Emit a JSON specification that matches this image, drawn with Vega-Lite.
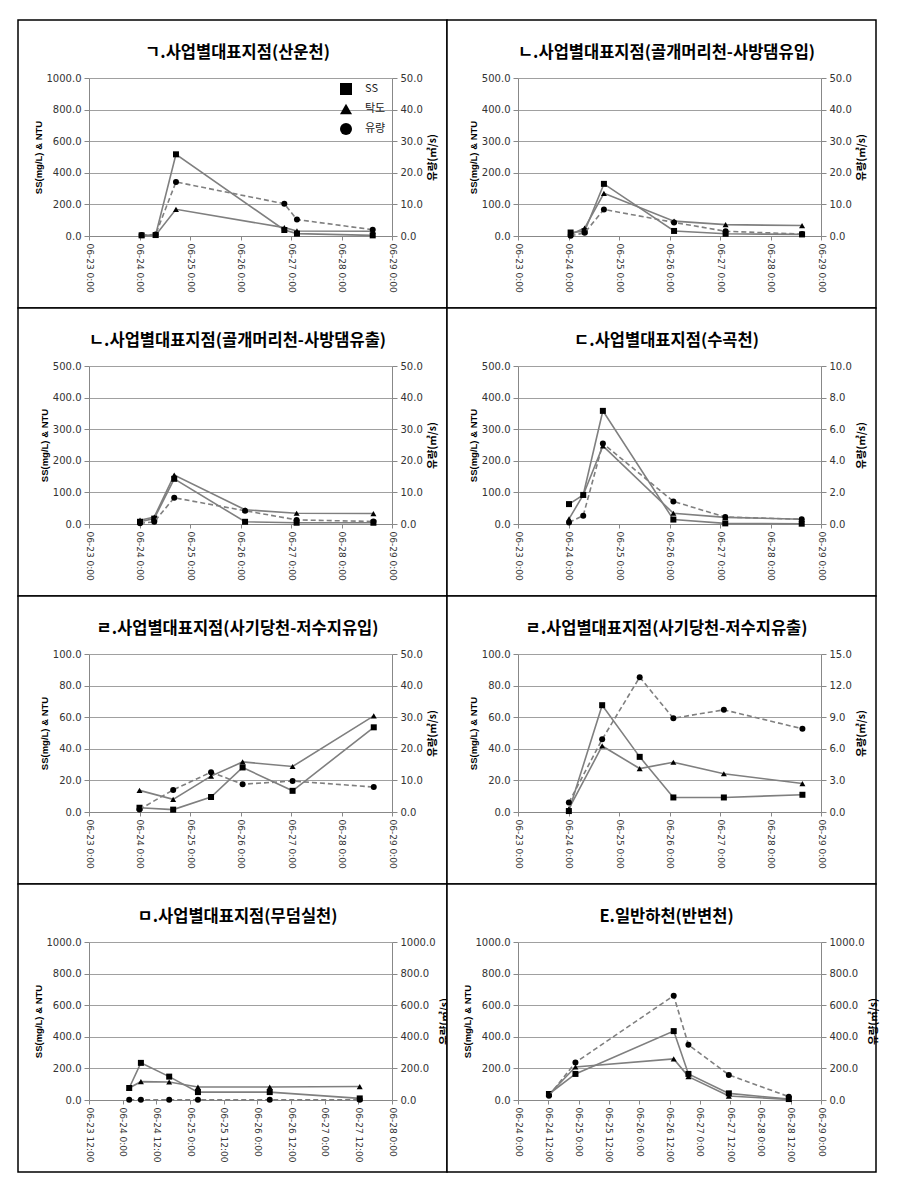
{
  "$schema": "https://vega.github.io/schema/vega-lite/v6.json",
  "background": "white",
  "padding": {"left": 17, "top": 19, "right": 5, "bottom": 5},
  "bounds": "flush",
  "columns": 2,
  "spacing": 0,
  "datasets": {
    "d": [
      {"p": 1, "t": "2013-06-24T01:00", "SS": 4, "탁도": 3, "유량": 0.3},
      {"p": 1, "t": "2013-06-24T07:40", "SS": 6, "탁도": 5, "유량": 0.5},
      {"p": 1, "t": "2013-06-24T17:20", "SS": 517, "탁도": 169, "유량": 17.1},
      {"p": 1, "t": "2013-06-26T20:50", "SS": 38, "탁도": 53, "유량": 10.2},
      {"p": 1, "t": "2013-06-27T02:50", "SS": 15, "탁도": 32, "유량": 5.2},
      {"p": 1, "t": "2013-06-28T14:50", "SS": 4, "탁도": 30, "유량": 2.0},
      {"p": 2, "t": "2013-06-24T01:00", "SS": 11, "탁도": 5, "유량": 0.1},
      {"p": 2, "t": "2013-06-24T07:40", "SS": 15, "탁도": 25, "유량": 1.0},
      {"p": 2, "t": "2013-06-24T16:50", "SS": 165, "탁도": 135, "유량": 8.4},
      {"p": 2, "t": "2013-06-26T02:10", "SS": 16, "탁도": 47, "유량": 4.3},
      {"p": 2, "t": "2013-06-27T02:40", "SS": 7, "탁도": 36, "유량": 1.5},
      {"p": 2, "t": "2013-06-28T15:00", "SS": 5, "탁도": 33, "유량": 0.6},
      {"p": 3, "t": "2013-06-24T00:15", "SS": 7, "탁도": 12, "유량": 0.2},
      {"p": 3, "t": "2013-06-24T07:00", "SS": 17, "탁도": 22, "유량": 0.7},
      {"p": 3, "t": "2013-06-24T16:30", "SS": 143, "탁도": 155, "유량": 8.3},
      {"p": 3, "t": "2013-06-26T02:10", "SS": 7, "탁도": 45, "유량": 4.2},
      {"p": 3, "t": "2013-06-27T02:40", "SS": 4, "탁도": 34, "유량": 1.3},
      {"p": 3, "t": "2013-06-28T15:10", "SS": 4, "탁도": 33, "유량": 0.8},
      {"p": 4, "t": "2013-06-24T00:15", "SS": 63, "탁도": 16, "유량": 0.1},
      {"p": 4, "t": "2013-06-24T07:00", "SS": 92, "탁도": 92, "유량": 0.53},
      {"p": 4, "t": "2013-06-24T16:20", "SS": 358, "탁도": 247, "유량": 5.1},
      {"p": 4, "t": "2013-06-26T01:50", "SS": 14, "탁도": 34, "유량": 1.43},
      {"p": 4, "t": "2013-06-27T02:30", "SS": 2, "탁도": 21, "유량": 0.44},
      {"p": 4, "t": "2013-06-28T14:50", "SS": 1, "탁도": 15, "유량": 0.3},
      {"p": 5, "t": "2013-06-24T00:00", "SS": 2.7, "탁도": 13.7, "유량": 0.8},
      {"p": 5, "t": "2013-06-24T16:00", "SS": 1.5, "탁도": 8, "유량": 7.0},
      {"p": 5, "t": "2013-06-25T10:00", "SS": 9.5, "탁도": 22.7, "유량": 12.6},
      {"p": 5, "t": "2013-06-26T01:00", "SS": 28.2, "탁도": 31.7, "유량": 8.8},
      {"p": 5, "t": "2013-06-27T00:45", "SS": 13.4, "탁도": 28.8, "유량": 9.8},
      {"p": 5, "t": "2013-06-28T15:20", "SS": 53.6, "탁도": 60.8, "유량": 7.9},
      {"p": 6, "t": "2013-06-24T00:10", "SS": 0.6, "탁도": 2, "유량": 0.9},
      {"p": 6, "t": "2013-06-24T16:00", "SS": 67.6, "탁도": 41.8, "유량": 6.9},
      {"p": 6, "t": "2013-06-25T09:50", "SS": 34.9, "탁도": 27.5, "유량": 12.8},
      {"p": 6, "t": "2013-06-26T01:50", "SS": 9.2, "탁도": 31.5, "유량": 8.9},
      {"p": 6, "t": "2013-06-27T01:50", "SS": 9.2, "탁도": 24.2, "유량": 9.7},
      {"p": 6, "t": "2013-06-28T15:10", "SS": 10.9, "탁도": 18, "유량": 7.9},
      {"p": 7, "h": 26.33, "SS": 76, "탁도": 76, "유량": 1},
      {"p": 7, "h": 30.5, "SS": 235, "탁도": 116, "유량": 1},
      {"p": 7, "h": 40.58, "SS": 148, "탁도": 114, "유량": 1},
      {"p": 7, "h": 50.83, "SS": 50, "탁도": 82, "유량": 1},
      {"p": 7, "h": 76.42, "SS": 50, "탁도": 82, "유량": 1},
      {"p": 7, "h": 108.5, "SS": 10, "탁도": 85, "유량": 1},
      {"p": 8, "h": 36.25, "SS": 38, "탁도": 35, "유량": 27},
      {"p": 8, "h": 46.75, "SS": 165, "탁도": 209, "유량": 237},
      {"p": 8, "h": 85.67, "SS": 436, "탁도": 260, "유량": 660},
      {"p": 8, "h": 91.5, "SS": 165, "탁도": 148, "유량": 349},
      {"p": 8, "h": 107.5, "SS": 42, "탁도": 25, "유량": 159},
      {"p": 8, "h": 131.25, "SS": 6, "탁도": 4, "유량": 21}
    ]
  },
  "concat": [
    {
      "width": 429, "height": 288,
      "title": {"text": "ㄱ.사업별대표지점(산운천)", "dy": 45, "dx": 5},
      "data": {"name": "d"},
      "transform": [{"filter": "datum.p == 1"}],
      "resolve": {"scale": {"y": "independent"}},
      "layer": [
        {"mark": {"type": "point", "opacity": 0},
         "encoding": {
           "x": {"field": "t", "type": "temporal", "scale": {"domain": [{"year": 2013, "month": 6, "date": 23, "hours": 0}, {"year": 2013, "month": 6, "date": 29, "hours": 0}], "range": [71, 374], "nice": false}, "axis": {"format": "%m-%d %-H:%M", "tickCount": {"interval": "day", "step": 1}, "title": null}},
           "y": {"field": "SS", "type": "quantitative", "scale": {"domain": [0, 1000], "range": [216, 58], "nice": false}, "axis": {"orient": "left", "offset": 0, "values": [0, 200, 400, 600, 800, 1000], "grid": true, "domain": false, "ticks": false, "labels": false, "title": null}}}},
        {"transform": [{"fold": ["SS", "탁도"], "as": ["series", "value"]}],
         "layer": [
          {"mark": {"type": "line", "color": "#7f7f7f", "strokeWidth": 1.6},
           "encoding": {
             "x": {"field": "t", "type": "temporal"},
             "y": {"field": "value", "type": "quantitative", "scale": {"domain": [0, 1000], "range": [216, 58], "nice": false}, "axis": {"orient": "left", "values": [0, 200, 400, 600, 800, 1000], "format": ".1f", "title": "SS(mg/L) & NTU", "grid": false}},
             "detail": {"field": "series"}}},
          {"mark": {"type": "point", "filled": true, "opacity": 1, "color": "black", "size": 36},
           "encoding": {
             "x": {"field": "t", "type": "temporal"},
             "y": {"field": "value", "type": "quantitative"},
             "shape": {"field": "series", "type": "nominal", "scale": {"domain": ["SS", "탁도", "유량"], "range": ["square", "triangle-up", "circle"]},
               "legend": {"title": null, "orient": "none", "legendX": 321, "legendY": 62, "symbolSize": 144, "labelOffset": 12, "rowPadding": 2, "padding": 0,
                 "encode": {"symbols": {"update": {
                   "shape": {"signal": "datum.value === 'SS' ? 'M-2.25,0H2.25M-0.5,-0.5H0.5V0.5H-0.5Z' : datum.value === '탁도' ? 'M-2.25,0H2.25M0,-0.55L0.55,0.45H-0.55Z' : 'M-2.25,0H2.25M0.45,0A0.45,0.45 0 1,1 -0.45,0A0.45,0.45 0 1,1 0.45,0Z'"},
                   "strokeDash": {"signal": "datum.value === '유량' ? [3,2] : [1,0]"},
                   "fill": {"value": "black"}, "stroke": {"value": "#7f7f7f"}, "strokeWidth": {"value": 1.5}, "opacity": {"value": 1}}}}}}}}
         ]},
        {"layer": [
          {"mark": {"type": "line", "color": "#7f7f7f", "strokeWidth": 1.6, "strokeDash": [5, 3]},
           "encoding": {
             "x": {"field": "t", "type": "temporal"},
             "y": {"field": "유량", "type": "quantitative", "scale": {"domain": [0, 50], "range": [216, 58], "nice": false}, "axis": {"orient": "right", "values": [0, 10, 20, 30, 40, 50], "format": ".1f", "title": "유량(㎥/s)", "grid": false}}}},
          {"mark": {"type": "point", "filled": true, "opacity": 1, "color": "black", "size": 36},
           "encoding": {
             "x": {"field": "t", "type": "temporal"},
             "y": {"field": "유량", "type": "quantitative"},
             "shape": {"datum": "유량", "type": "nominal"}}}
        ]}
      ]
    },
    {
      "width": 429, "height": 288,
      "title": {"text": "ㄴ.사업별대표지점(골개머리천-사방댐유입)", "dy": 45, "dx": 5},
      "data": {"name": "d"},
      "transform": [{"filter": "datum.p == 2"}],
      "resolve": {"scale": {"y": "independent"}},
      "layer": [
        {"mark": {"type": "point", "opacity": 0},
         "encoding": {
           "x": {"field": "t", "type": "temporal", "scale": {"domain": [{"year": 2013, "month": 6, "date": 23, "hours": 0}, {"year": 2013, "month": 6, "date": 29, "hours": 0}], "range": [71, 374], "nice": false}, "axis": {"format": "%m-%d %-H:%M", "tickCount": {"interval": "day", "step": 1}, "title": null}},
           "y": {"field": "SS", "type": "quantitative", "scale": {"domain": [0, 500], "range": [216, 58], "nice": false}, "axis": {"orient": "left", "offset": 0, "values": [0, 100, 200, 300, 400, 500], "grid": true, "domain": false, "ticks": false, "labels": false, "title": null}}}},
        {"transform": [{"fold": ["SS", "탁도"], "as": ["series", "value"]}],
         "layer": [
          {"mark": {"type": "line", "color": "#7f7f7f", "strokeWidth": 1.6},
           "encoding": {
             "x": {"field": "t", "type": "temporal"},
             "y": {"field": "value", "type": "quantitative", "scale": {"domain": [0, 500], "range": [216, 58], "nice": false}, "axis": {"orient": "left", "values": [0, 100, 200, 300, 400, 500], "format": ".1f", "title": "SS(mg/L) & NTU", "grid": false}},
             "detail": {"field": "series"}}},
          {"mark": {"type": "point", "filled": true, "opacity": 1, "color": "black", "size": 36},
           "encoding": {
             "x": {"field": "t", "type": "temporal"},
             "y": {"field": "value", "type": "quantitative"},
             "shape": {"field": "series", "type": "nominal", "scale": {"domain": ["SS", "탁도", "유량"], "range": ["square", "triangle-up", "circle"]},
               "legend": {"title": null, "orient": "none", "legendX": 321, "legendY": 62, "symbolSize": 144, "labelOffset": 12, "rowPadding": 2, "padding": 0,
                 "encode": {"symbols": {"update": {
                   "shape": {"signal": "datum.value === 'SS' ? 'M-2.25,0H2.25M-0.5,-0.5H0.5V0.5H-0.5Z' : datum.value === '탁도' ? 'M-2.25,0H2.25M0,-0.55L0.55,0.45H-0.55Z' : 'M-2.25,0H2.25M0.45,0A0.45,0.45 0 1,1 -0.45,0A0.45,0.45 0 1,1 0.45,0Z'"},
                   "strokeDash": {"signal": "datum.value === '유량' ? [3,2] : [1,0]"},
                   "fill": {"value": "black"}, "stroke": {"value": "#7f7f7f"}, "strokeWidth": {"value": 1.5}, "opacity": {"value": 1}}}}}}}}
         ]},
        {"layer": [
          {"mark": {"type": "line", "color": "#7f7f7f", "strokeWidth": 1.6, "strokeDash": [5, 3]},
           "encoding": {
             "x": {"field": "t", "type": "temporal"},
             "y": {"field": "유량", "type": "quantitative", "scale": {"domain": [0, 50], "range": [216, 58], "nice": false}, "axis": {"orient": "right", "values": [0, 10, 20, 30, 40, 50], "format": ".1f", "title": "유량(㎥/s)", "grid": false}}}},
          {"mark": {"type": "point", "filled": true, "opacity": 1, "color": "black", "size": 36},
           "encoding": {
             "x": {"field": "t", "type": "temporal"},
             "y": {"field": "유량", "type": "quantitative"},
             "shape": {"datum": "유량", "type": "nominal"}}}
        ]}
      ]
    },
    {
      "width": 429, "height": 288,
      "title": {"text": "ㄴ.사업별대표지점(골개머리천-사방댐유출)", "dy": 45, "dx": 5},
      "data": {"name": "d"},
      "transform": [{"filter": "datum.p == 3"}],
      "resolve": {"scale": {"y": "independent"}},
      "layer": [
        {"mark": {"type": "point", "opacity": 0},
         "encoding": {
           "x": {"field": "t", "type": "temporal", "scale": {"domain": [{"year": 2013, "month": 6, "date": 23, "hours": 0}, {"year": 2013, "month": 6, "date": 29, "hours": 0}], "range": [71, 374], "nice": false}, "axis": {"format": "%m-%d %-H:%M", "tickCount": {"interval": "day", "step": 1}, "title": null}},
           "y": {"field": "SS", "type": "quantitative", "scale": {"domain": [0, 500], "range": [216, 58], "nice": false}, "axis": {"orient": "left", "offset": 0, "values": [0, 100, 200, 300, 400, 500], "grid": true, "domain": false, "ticks": false, "labels": false, "title": null}}}},
        {"transform": [{"fold": ["SS", "탁도"], "as": ["series", "value"]}],
         "layer": [
          {"mark": {"type": "line", "color": "#7f7f7f", "strokeWidth": 1.6},
           "encoding": {
             "x": {"field": "t", "type": "temporal"},
             "y": {"field": "value", "type": "quantitative", "scale": {"domain": [0, 500], "range": [216, 58], "nice": false}, "axis": {"orient": "left", "values": [0, 100, 200, 300, 400, 500], "format": ".1f", "title": "SS(mg/L) & NTU", "grid": false}},
             "detail": {"field": "series"}}},
          {"mark": {"type": "point", "filled": true, "opacity": 1, "color": "black", "size": 36},
           "encoding": {
             "x": {"field": "t", "type": "temporal"},
             "y": {"field": "value", "type": "quantitative"},
             "shape": {"field": "series", "type": "nominal", "scale": {"domain": ["SS", "탁도", "유량"], "range": ["square", "triangle-up", "circle"]},
               "legend": {"title": null, "orient": "none", "legendX": 321, "legendY": 62, "symbolSize": 144, "labelOffset": 12, "rowPadding": 2, "padding": 0,
                 "encode": {"symbols": {"update": {
                   "shape": {"signal": "datum.value === 'SS' ? 'M-2.25,0H2.25M-0.5,-0.5H0.5V0.5H-0.5Z' : datum.value === '탁도' ? 'M-2.25,0H2.25M0,-0.55L0.55,0.45H-0.55Z' : 'M-2.25,0H2.25M0.45,0A0.45,0.45 0 1,1 -0.45,0A0.45,0.45 0 1,1 0.45,0Z'"},
                   "strokeDash": {"signal": "datum.value === '유량' ? [3,2] : [1,0]"},
                   "fill": {"value": "black"}, "stroke": {"value": "#7f7f7f"}, "strokeWidth": {"value": 1.5}, "opacity": {"value": 1}}}}}}}}
         ]},
        {"layer": [
          {"mark": {"type": "line", "color": "#7f7f7f", "strokeWidth": 1.6, "strokeDash": [5, 3]},
           "encoding": {
             "x": {"field": "t", "type": "temporal"},
             "y": {"field": "유량", "type": "quantitative", "scale": {"domain": [0, 50], "range": [216, 58], "nice": false}, "axis": {"orient": "right", "values": [0, 10, 20, 30, 40, 50], "format": ".1f", "title": "유량(㎥/s)", "grid": false}}}},
          {"mark": {"type": "point", "filled": true, "opacity": 1, "color": "black", "size": 36},
           "encoding": {
             "x": {"field": "t", "type": "temporal"},
             "y": {"field": "유량", "type": "quantitative"},
             "shape": {"datum": "유량", "type": "nominal"}}}
        ]}
      ]
    },
    {
      "width": 429, "height": 288,
      "title": {"text": "ㄷ.사업별대표지점(수곡천)", "dy": 45, "dx": 5},
      "data": {"name": "d"},
      "transform": [{"filter": "datum.p == 4"}],
      "resolve": {"scale": {"y": "independent"}},
      "layer": [
        {"mark": {"type": "point", "opacity": 0},
         "encoding": {
           "x": {"field": "t", "type": "temporal", "scale": {"domain": [{"year": 2013, "month": 6, "date": 23, "hours": 0}, {"year": 2013, "month": 6, "date": 29, "hours": 0}], "range": [71, 374], "nice": false}, "axis": {"format": "%m-%d %-H:%M", "tickCount": {"interval": "day", "step": 1}, "title": null}},
           "y": {"field": "SS", "type": "quantitative", "scale": {"domain": [0, 500], "range": [216, 58], "nice": false}, "axis": {"orient": "left", "offset": 0, "values": [0, 100, 200, 300, 400, 500], "grid": true, "domain": false, "ticks": false, "labels": false, "title": null}}}},
        {"transform": [{"fold": ["SS", "탁도"], "as": ["series", "value"]}],
         "layer": [
          {"mark": {"type": "line", "color": "#7f7f7f", "strokeWidth": 1.6},
           "encoding": {
             "x": {"field": "t", "type": "temporal"},
             "y": {"field": "value", "type": "quantitative", "scale": {"domain": [0, 500], "range": [216, 58], "nice": false}, "axis": {"orient": "left", "values": [0, 100, 200, 300, 400, 500], "format": ".1f", "title": "SS(mg/L) & NTU", "grid": false}},
             "detail": {"field": "series"}}},
          {"mark": {"type": "point", "filled": true, "opacity": 1, "color": "black", "size": 36},
           "encoding": {
             "x": {"field": "t", "type": "temporal"},
             "y": {"field": "value", "type": "quantitative"},
             "shape": {"field": "series", "type": "nominal", "scale": {"domain": ["SS", "탁도", "유량"], "range": ["square", "triangle-up", "circle"]},
               "legend": {"title": null, "orient": "none", "legendX": 321, "legendY": 62, "symbolSize": 144, "labelOffset": 12, "rowPadding": 2, "padding": 0,
                 "encode": {"symbols": {"update": {
                   "shape": {"signal": "datum.value === 'SS' ? 'M-2.25,0H2.25M-0.5,-0.5H0.5V0.5H-0.5Z' : datum.value === '탁도' ? 'M-2.25,0H2.25M0,-0.55L0.55,0.45H-0.55Z' : 'M-2.25,0H2.25M0.45,0A0.45,0.45 0 1,1 -0.45,0A0.45,0.45 0 1,1 0.45,0Z'"},
                   "strokeDash": {"signal": "datum.value === '유량' ? [3,2] : [1,0]"},
                   "fill": {"value": "black"}, "stroke": {"value": "#7f7f7f"}, "strokeWidth": {"value": 1.5}, "opacity": {"value": 1}}}}}}}}
         ]},
        {"layer": [
          {"mark": {"type": "line", "color": "#7f7f7f", "strokeWidth": 1.6, "strokeDash": [5, 3]},
           "encoding": {
             "x": {"field": "t", "type": "temporal"},
             "y": {"field": "유량", "type": "quantitative", "scale": {"domain": [0, 10], "range": [216, 58], "nice": false}, "axis": {"orient": "right", "values": [0, 2, 4, 6, 8, 10], "format": ".1f", "title": "유량(㎥/s)", "grid": false}}}},
          {"mark": {"type": "point", "filled": true, "opacity": 1, "color": "black", "size": 36},
           "encoding": {
             "x": {"field": "t", "type": "temporal"},
             "y": {"field": "유량", "type": "quantitative"},
             "shape": {"datum": "유량", "type": "nominal"}}}
        ]}
      ]
    },
    {
      "width": 429, "height": 288,
      "title": {"text": "ㄹ.사업별대표지점(사기당천-저수지유입)", "dy": 45, "dx": 5},
      "data": {"name": "d"},
      "transform": [{"filter": "datum.p == 5"}],
      "resolve": {"scale": {"y": "independent"}},
      "layer": [
        {"mark": {"type": "point", "opacity": 0},
         "encoding": {
           "x": {"field": "t", "type": "temporal", "scale": {"domain": [{"year": 2013, "month": 6, "date": 23, "hours": 0}, {"year": 2013, "month": 6, "date": 29, "hours": 0}], "range": [71, 374], "nice": false}, "axis": {"format": "%m-%d %-H:%M", "tickCount": {"interval": "day", "step": 1}, "title": null}},
           "y": {"field": "SS", "type": "quantitative", "scale": {"domain": [0, 100], "range": [216, 58], "nice": false}, "axis": {"orient": "left", "offset": 0, "values": [0, 20, 40, 60, 80, 100], "grid": true, "domain": false, "ticks": false, "labels": false, "title": null}}}},
        {"transform": [{"fold": ["SS", "탁도"], "as": ["series", "value"]}],
         "layer": [
          {"mark": {"type": "line", "color": "#7f7f7f", "strokeWidth": 1.6},
           "encoding": {
             "x": {"field": "t", "type": "temporal"},
             "y": {"field": "value", "type": "quantitative", "scale": {"domain": [0, 100], "range": [216, 58], "nice": false}, "axis": {"orient": "left", "values": [0, 20, 40, 60, 80, 100], "format": ".1f", "title": "SS(mg/L) & NTU", "grid": false}},
             "detail": {"field": "series"}}},
          {"mark": {"type": "point", "filled": true, "opacity": 1, "color": "black", "size": 36},
           "encoding": {
             "x": {"field": "t", "type": "temporal"},
             "y": {"field": "value", "type": "quantitative"},
             "shape": {"field": "series", "type": "nominal", "scale": {"domain": ["SS", "탁도", "유량"], "range": ["square", "triangle-up", "circle"]},
               "legend": {"title": null, "orient": "none", "legendX": 321, "legendY": 62, "symbolSize": 144, "labelOffset": 12, "rowPadding": 2, "padding": 0,
                 "encode": {"symbols": {"update": {
                   "shape": {"signal": "datum.value === 'SS' ? 'M-2.25,0H2.25M-0.5,-0.5H0.5V0.5H-0.5Z' : datum.value === '탁도' ? 'M-2.25,0H2.25M0,-0.55L0.55,0.45H-0.55Z' : 'M-2.25,0H2.25M0.45,0A0.45,0.45 0 1,1 -0.45,0A0.45,0.45 0 1,1 0.45,0Z'"},
                   "strokeDash": {"signal": "datum.value === '유량' ? [3,2] : [1,0]"},
                   "fill": {"value": "black"}, "stroke": {"value": "#7f7f7f"}, "strokeWidth": {"value": 1.5}, "opacity": {"value": 1}}}}}}}}
         ]},
        {"layer": [
          {"mark": {"type": "line", "color": "#7f7f7f", "strokeWidth": 1.6, "strokeDash": [5, 3]},
           "encoding": {
             "x": {"field": "t", "type": "temporal"},
             "y": {"field": "유량", "type": "quantitative", "scale": {"domain": [0, 50], "range": [216, 58], "nice": false}, "axis": {"orient": "right", "values": [0, 10, 20, 30, 40, 50], "format": ".1f", "title": "유량(㎥/s)", "grid": false}}}},
          {"mark": {"type": "point", "filled": true, "opacity": 1, "color": "black", "size": 36},
           "encoding": {
             "x": {"field": "t", "type": "temporal"},
             "y": {"field": "유량", "type": "quantitative"},
             "shape": {"datum": "유량", "type": "nominal"}}}
        ]}
      ]
    },
    {
      "width": 429, "height": 288,
      "title": {"text": "ㄹ.사업별대표지점(사기당천-저수지유출)", "dy": 45, "dx": 5},
      "data": {"name": "d"},
      "transform": [{"filter": "datum.p == 6"}],
      "resolve": {"scale": {"y": "independent"}},
      "layer": [
        {"mark": {"type": "point", "opacity": 0},
         "encoding": {
           "x": {"field": "t", "type": "temporal", "scale": {"domain": [{"year": 2013, "month": 6, "date": 23, "hours": 0}, {"year": 2013, "month": 6, "date": 29, "hours": 0}], "range": [71, 374], "nice": false}, "axis": {"format": "%m-%d %-H:%M", "tickCount": {"interval": "day", "step": 1}, "title": null}},
           "y": {"field": "SS", "type": "quantitative", "scale": {"domain": [0, 100], "range": [216, 58], "nice": false}, "axis": {"orient": "left", "offset": 0, "values": [0, 20, 40, 60, 80, 100], "grid": true, "domain": false, "ticks": false, "labels": false, "title": null}}}},
        {"transform": [{"fold": ["SS", "탁도"], "as": ["series", "value"]}],
         "layer": [
          {"mark": {"type": "line", "color": "#7f7f7f", "strokeWidth": 1.6},
           "encoding": {
             "x": {"field": "t", "type": "temporal"},
             "y": {"field": "value", "type": "quantitative", "scale": {"domain": [0, 100], "range": [216, 58], "nice": false}, "axis": {"orient": "left", "values": [0, 20, 40, 60, 80, 100], "format": ".1f", "title": "SS(mg/L) & NTU", "grid": false}},
             "detail": {"field": "series"}}},
          {"mark": {"type": "point", "filled": true, "opacity": 1, "color": "black", "size": 36},
           "encoding": {
             "x": {"field": "t", "type": "temporal"},
             "y": {"field": "value", "type": "quantitative"},
             "shape": {"field": "series", "type": "nominal", "scale": {"domain": ["SS", "탁도", "유량"], "range": ["square", "triangle-up", "circle"]},
               "legend": {"title": null, "orient": "none", "legendX": 321, "legendY": 62, "symbolSize": 144, "labelOffset": 12, "rowPadding": 2, "padding": 0,
                 "encode": {"symbols": {"update": {
                   "shape": {"signal": "datum.value === 'SS' ? 'M-2.25,0H2.25M-0.5,-0.5H0.5V0.5H-0.5Z' : datum.value === '탁도' ? 'M-2.25,0H2.25M0,-0.55L0.55,0.45H-0.55Z' : 'M-2.25,0H2.25M0.45,0A0.45,0.45 0 1,1 -0.45,0A0.45,0.45 0 1,1 0.45,0Z'"},
                   "strokeDash": {"signal": "datum.value === '유량' ? [3,2] : [1,0]"},
                   "fill": {"value": "black"}, "stroke": {"value": "#7f7f7f"}, "strokeWidth": {"value": 1.5}, "opacity": {"value": 1}}}}}}}}
         ]},
        {"layer": [
          {"mark": {"type": "line", "color": "#7f7f7f", "strokeWidth": 1.6, "strokeDash": [5, 3]},
           "encoding": {
             "x": {"field": "t", "type": "temporal"},
             "y": {"field": "유량", "type": "quantitative", "scale": {"domain": [0, 15], "range": [216, 58], "nice": false}, "axis": {"orient": "right", "values": [0, 3, 6, 9, 12, 15], "format": ".1f", "title": "유량(㎥/s)", "grid": false}}}},
          {"mark": {"type": "point", "filled": true, "opacity": 1, "color": "black", "size": 36},
           "encoding": {
             "x": {"field": "t", "type": "temporal"},
             "y": {"field": "유량", "type": "quantitative"},
             "shape": {"datum": "유량", "type": "nominal"}}}
        ]}
      ]
    },
    {
      "width": 429, "height": 288,
      "title": {"text": "ㅁ.사업별대표지점(무덤실천)", "dy": 45, "dx": 5},
      "data": {"name": "d"},
      "transform": [{"filter": "datum.p == 7"}],
      "resolve": {"scale": {"y": "independent"}},
      "layer": [
        {"mark": {"type": "point", "opacity": 0},
         "encoding": {
           "x": {"field": "h", "type": "quantitative", "scale": {"domain": [12, 120], "range": [71, 374], "nice": false, "zero": false}, "axis": {"values": [12, 24, 36, 48, 60, 72, 84, 96, 108, 120], "labelExpr": "timeFormat(datetime(2013, 5, 23, datum.value, 0, 0, 0), '%m-%d %-H:%M')", "title": null}},
           "y": {"field": "SS", "type": "quantitative", "scale": {"domain": [0, 1000], "range": [216, 58], "nice": false}, "axis": {"orient": "left", "offset": 0, "values": [0, 200, 400, 600, 800, 1000], "grid": true, "domain": false, "ticks": false, "labels": false, "title": null}}}},
        {"transform": [{"fold": ["SS", "탁도"], "as": ["series", "value"]}],
         "layer": [
          {"mark": {"type": "line", "color": "#7f7f7f", "strokeWidth": 1.6},
           "encoding": {
             "x": {"field": "h", "type": "quantitative"},
             "y": {"field": "value", "type": "quantitative", "scale": {"domain": [0, 1000], "range": [216, 58], "nice": false}, "axis": {"orient": "left", "values": [0, 200, 400, 600, 800, 1000], "format": ".1f", "title": "SS(mg/L) & NTU", "grid": false}},
             "detail": {"field": "series"}}},
          {"mark": {"type": "point", "filled": true, "opacity": 1, "color": "black", "size": 36},
           "encoding": {
             "x": {"field": "h", "type": "quantitative"},
             "y": {"field": "value", "type": "quantitative"},
             "shape": {"field": "series", "type": "nominal", "scale": {"domain": ["SS", "탁도", "유량"], "range": ["square", "triangle-up", "circle"]},
               "legend": {"title": null, "orient": "none", "legendX": 321, "legendY": 62, "symbolSize": 144, "labelOffset": 12, "rowPadding": 2, "padding": 0,
                 "encode": {"symbols": {"update": {
                   "shape": {"signal": "datum.value === 'SS' ? 'M-2.25,0H2.25M-0.5,-0.5H0.5V0.5H-0.5Z' : datum.value === '탁도' ? 'M-2.25,0H2.25M0,-0.55L0.55,0.45H-0.55Z' : 'M-2.25,0H2.25M0.45,0A0.45,0.45 0 1,1 -0.45,0A0.45,0.45 0 1,1 0.45,0Z'"},
                   "strokeDash": {"signal": "datum.value === '유량' ? [3,2] : [1,0]"},
                   "fill": {"value": "black"}, "stroke": {"value": "#7f7f7f"}, "strokeWidth": {"value": 1.5}, "opacity": {"value": 1}}}}}}}}
         ]},
        {"layer": [
          {"mark": {"type": "line", "color": "#7f7f7f", "strokeWidth": 1.6, "strokeDash": [5, 3]},
           "encoding": {
             "x": {"field": "h", "type": "quantitative"},
             "y": {"field": "유량", "type": "quantitative", "scale": {"domain": [0, 1000], "range": [216, 58], "nice": false}, "axis": {"orient": "right", "values": [0, 200, 400, 600, 800, 1000], "format": ".1f", "title": "유량(㎥/s)", "grid": false}}}},
          {"mark": {"type": "point", "filled": true, "opacity": 1, "color": "black", "size": 36},
           "encoding": {
             "x": {"field": "h", "type": "quantitative"},
             "y": {"field": "유량", "type": "quantitative"},
             "shape": {"datum": "유량", "type": "nominal"}}}
        ]}
      ]
    },
    {
      "width": 429, "height": 288,
      "title": {"text": "E.일반하천(반변천)", "dy": 45, "dx": 5},
      "data": {"name": "d"},
      "transform": [{"filter": "datum.p == 8"}],
      "resolve": {"scale": {"y": "independent"}},
      "layer": [
        {"mark": {"type": "point", "opacity": 0},
         "encoding": {
           "x": {"field": "h", "type": "quantitative", "scale": {"domain": [24, 144], "range": [71, 374], "nice": false, "zero": false}, "axis": {"values": [24, 36, 48, 60, 72, 84, 96, 108, 120, 132, 144], "labelExpr": "timeFormat(datetime(2013, 5, 23, datum.value, 0, 0, 0), '%m-%d %-H:%M')", "title": null}},
           "y": {"field": "SS", "type": "quantitative", "scale": {"domain": [0, 1000], "range": [216, 58], "nice": false}, "axis": {"orient": "left", "offset": 0, "values": [0, 200, 400, 600, 800, 1000], "grid": true, "domain": false, "ticks": false, "labels": false, "title": null}}}},
        {"transform": [{"fold": ["SS", "탁도"], "as": ["series", "value"]}],
         "layer": [
          {"mark": {"type": "line", "color": "#7f7f7f", "strokeWidth": 1.6},
           "encoding": {
             "x": {"field": "h", "type": "quantitative"},
             "y": {"field": "value", "type": "quantitative", "scale": {"domain": [0, 1000], "range": [216, 58], "nice": false}, "axis": {"orient": "left", "values": [0, 200, 400, 600, 800, 1000], "format": ".1f", "title": "SS(mg/L) & NTU", "grid": false}},
             "detail": {"field": "series"}}},
          {"mark": {"type": "point", "filled": true, "opacity": 1, "color": "black", "size": 36},
           "encoding": {
             "x": {"field": "h", "type": "quantitative"},
             "y": {"field": "value", "type": "quantitative"},
             "shape": {"field": "series", "type": "nominal", "scale": {"domain": ["SS", "탁도", "유량"], "range": ["square", "triangle-up", "circle"]},
               "legend": {"title": null, "orient": "none", "legendX": 321, "legendY": 62, "symbolSize": 144, "labelOffset": 12, "rowPadding": 2, "padding": 0,
                 "encode": {"symbols": {"update": {
                   "shape": {"signal": "datum.value === 'SS' ? 'M-2.25,0H2.25M-0.5,-0.5H0.5V0.5H-0.5Z' : datum.value === '탁도' ? 'M-2.25,0H2.25M0,-0.55L0.55,0.45H-0.55Z' : 'M-2.25,0H2.25M0.45,0A0.45,0.45 0 1,1 -0.45,0A0.45,0.45 0 1,1 0.45,0Z'"},
                   "strokeDash": {"signal": "datum.value === '유량' ? [3,2] : [1,0]"},
                   "fill": {"value": "black"}, "stroke": {"value": "#7f7f7f"}, "strokeWidth": {"value": 1.5}, "opacity": {"value": 1}}}}}}}}
         ]},
        {"layer": [
          {"mark": {"type": "line", "color": "#7f7f7f", "strokeWidth": 1.6, "strokeDash": [5, 3]},
           "encoding": {
             "x": {"field": "h", "type": "quantitative"},
             "y": {"field": "유량", "type": "quantitative", "scale": {"domain": [0, 1000], "range": [216, 58], "nice": false}, "axis": {"orient": "right", "values": [0, 200, 400, 600, 800, 1000], "format": ".1f", "title": "유량(㎥/s)", "grid": false}}}},
          {"mark": {"type": "point", "filled": true, "opacity": 1, "color": "black", "size": 36},
           "encoding": {
             "x": {"field": "h", "type": "quantitative"},
             "y": {"field": "유량", "type": "quantitative"},
             "shape": {"datum": "유량", "type": "nominal"}}}
        ]}
      ]
    }
  ],
  "config": {
    "view": {"stroke": "black", "strokeWidth": 1.5, "fill": "white"},
    "title": {"font": "Noto Sans CJK KR", "fontSize": 16.5, "fontWeight": "bold", "color": "black"},
    "axis": {"domainColor": "#888888", "tickColor": "#888888", "gridColor": "#a0a0a0", "labelColor": "#333333", "labelFont": "DejaVu Sans", "labelFontSize": 10, "tickSize": 5, "labelPadding": 3, "domainWidth": 1, "gridWidth": 1, "titleColor": "black"},
    "axisX": {"labelAngle": 90, "labelFontSize": 9, "offset": -72, "labelFlush": false, "labelOverlap": false, "grid": false, "tickSize": 4},
    "axisLeft": {"offset": -71, "titleFont": "Liberation Sans", "titleFontSize": 9.5, "titleFontWeight": "bold", "titlePadding": 3},
    "axisRight": {"offset": -55, "titleFont": "Noto Sans CJK KR", "titleFontSize": 10.5, "titleFontWeight": "bold", "titleAngle": 270, "titlePadding": 15},
    "legend": {"labelFont": "Noto Sans CJK KR", "labelFontSize": 11, "labelColor": "#222222"}
  }
}
